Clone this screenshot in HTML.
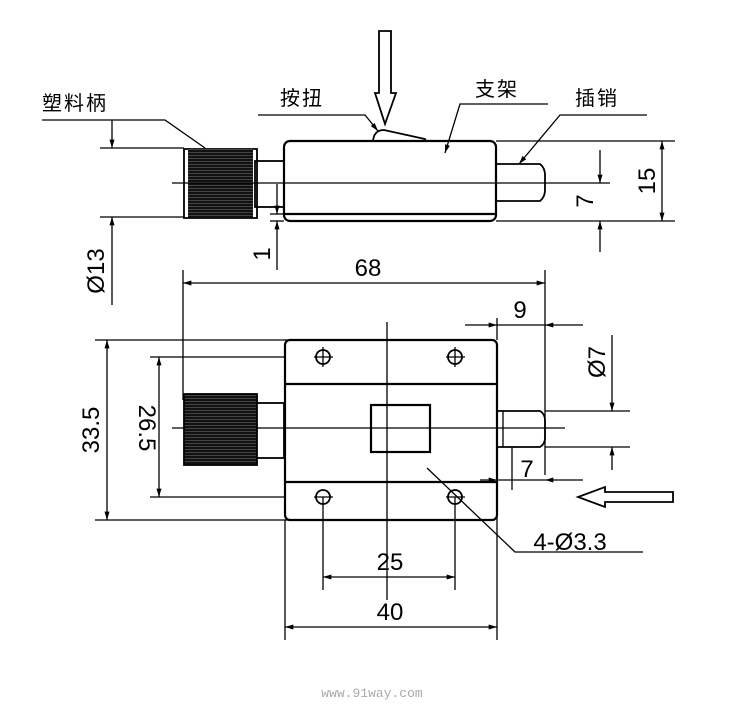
<!DOCTYPE html>
<html><head><meta charset="utf-8"><style>html,body{margin:0;padding:0;background:#fff}svg{display:block}</style></head><body>
<svg width="750" height="705" viewBox="0 0 750 705" xmlns="http://www.w3.org/2000/svg">
<defs>
<marker id="a" viewBox="0 0 10 6" refX="10" refY="3" markerWidth="14" markerHeight="5" markerUnits="userSpaceOnUse" orient="auto-start-reverse"><path d="M0,0L10,3L0,6z" fill="#000"/></marker>
<pattern id="k" width="4" height="3" patternUnits="userSpaceOnUse"><rect width="4" height="3" fill="#111"/><rect y="2" width="4" height="0.6" fill="#666"/></pattern>
</defs>
<g fill="none" stroke="#000" stroke-width="1.3">
<rect x="284" y="141" width="212" height="80" rx="6" stroke-width="2.2"/>
<line x1="284" y1="214" x2="496" y2="214" stroke-width="2.2"/>
<rect x="255" y="161" width="29" height="46" stroke-width="1.8"/>
<path d="M184,149 H257 V218 H184 Z" stroke-width="1.8"/>
<rect x="188" y="149" width="65" height="69" fill="url(#k)" stroke="none"/>
<path d="M497,164 H540 Q545,168 545,175 V190 Q545,197 540,201 H497" stroke-width="1.8"/>
<path d="M373,141 Q374,130 384,130 L425,139 L426,141" stroke-width="1.8"/>
<line x1="172" y1="183" x2="610" y2="183"/>
<path d="M379,31 H391 V93 H396 L385,124 L375,93 H379 Z" stroke-width="1.8"/>
<path d="M42,120 H165 L205,148"/>
<path d="M258,115 H365 L378,131" marker-end="url(#a)"/>
<path d="M548,104 H460 L445,153" marker-end="url(#a)"/>
<path d="M647,115 H560 L519,164" marker-end="url(#a)"/>
<line x1="496" y1="141" x2="675" y2="141"/>
<line x1="496" y1="221" x2="675" y2="221"/>
<line x1="662" y1="141" x2="662" y2="221" marker-start="url(#a)" marker-end="url(#a)"/>
<line x1="600" y1="150" x2="600" y2="183" marker-end="url(#a)"/>
<line x1="600" y1="221" x2="600" y2="252" marker-start="url(#a)"/>
<line x1="100" y1="148" x2="184" y2="148"/>
<line x1="100" y1="217" x2="184" y2="217"/>
<line x1="112" y1="120" x2="112" y2="148" marker-end="url(#a)"/>
<line x1="112" y1="217" x2="112" y2="305" marker-start="url(#a)"/>
<line x1="270" y1="214" x2="284" y2="214"/>
<line x1="270" y1="221" x2="284" y2="221"/>
<line x1="277" y1="184" x2="277" y2="214" marker-end="url(#a)"/>
<line x1="277" y1="221" x2="277" y2="270" marker-start="url(#a)"/>
<line x1="183" y1="270" x2="183" y2="400"/>
<line x1="545" y1="270" x2="545" y2="475"/>
<line x1="183" y1="283" x2="545" y2="283" marker-start="url(#a)" marker-end="url(#a)"/>
<line x1="465" y1="325" x2="497" y2="325" marker-end="url(#a)"/>
<line x1="497" y1="325" x2="545" y2="325"/>
<line x1="583" y1="325" x2="545" y2="325" marker-end="url(#a)"/>
<line x1="497" y1="318" x2="497" y2="340"/>
<line x1="95" y1="340" x2="290" y2="340"/>
<line x1="95" y1="520" x2="290" y2="520"/>
<line x1="107" y1="340" x2="107" y2="520" marker-start="url(#a)" marker-end="url(#a)"/>
<line x1="150" y1="357" x2="330" y2="357"/>
<line x1="150" y1="497" x2="330" y2="497"/>
<line x1="159" y1="357" x2="159" y2="497" marker-start="url(#a)" marker-end="url(#a)"/>
<rect x="285" y="340" width="212" height="180" rx="5" fill="#fff" stroke-width="2.2"/>
<line x1="285" y1="384" x2="497" y2="384" stroke-width="2.2"/>
<line x1="285" y1="482" x2="497" y2="482" stroke-width="2.2"/>
<rect x="371" y="405" width="59" height="47" stroke-width="2.2"/>
<g stroke-width="1.8"><circle cx="323" cy="357" r="7"/><circle cx="455" cy="357" r="7"/><circle cx="323" cy="497" r="7"/><circle cx="455" cy="497" r="7"/></g>
<path d="M314,357H333M323,347V367M446,357H465M455,347V367M314,497H333M446,497H465"/>
<rect x="255" y="403" width="29" height="55" fill="#fff" stroke-width="1.8"/>
<path d="M497,411 H540 Q545,414 545,420 V438 Q545,444 540,447 H497 Z" stroke-width="1.8"/>
<line x1="503" y1="411" x2="503" y2="447"/>
<line x1="172" y1="428" x2="565" y2="428"/>
<line x1="387" y1="322" x2="387" y2="600"/>
<line x1="323" y1="497" x2="323" y2="590"/>
<line x1="455" y1="497" x2="455" y2="590"/>
<line x1="323" y1="577" x2="455" y2="577" marker-start="url(#a)" marker-end="url(#a)"/>
<line x1="285" y1="520" x2="285" y2="640"/>
<line x1="497" y1="482" x2="497" y2="640"/>
<line x1="285" y1="627" x2="497" y2="627" marker-start="url(#a)" marker-end="url(#a)"/>
<line x1="545" y1="411" x2="630" y2="411"/>
<line x1="545" y1="447" x2="630" y2="447"/>
<line x1="612" y1="335" x2="612" y2="411" marker-end="url(#a)"/>
<line x1="612" y1="447" x2="612" y2="470" marker-start="url(#a)"/>
<line x1="512" y1="447" x2="512" y2="490"/>
<line x1="480" y1="480" x2="497" y2="480" marker-end="url(#a)"/>
<line x1="497" y1="480" x2="545" y2="480"/>
<line x1="583" y1="480" x2="545" y2="480" marker-end="url(#a)"/>
<path d="M673,492 H605 V487 L578,497 L605,507 V502 H673 Z" stroke-width="1.8"/>
<path d="M427,468 L515,552 H643"/>
</g>
<g font-family="'Liberation Sans','Noto Sans CJK SC',sans-serif" fill="#000">
<text x="42" y="110" font-size="20" letter-spacing="2">塑料柄</text>
<text x="280" y="105" font-size="20" letter-spacing="2">按扭</text>
<text x="475" y="96" font-size="20" letter-spacing="2">支架</text>
<text x="575" y="105" font-size="20" letter-spacing="2">插销</text>
<text font-size="24" transform="translate(655,181) rotate(-90)" text-anchor="middle">15</text>
<text font-size="24" transform="translate(593,201) rotate(-90)" text-anchor="middle">7</text>
<text font-size="24" transform="translate(270,254) rotate(-90)" text-anchor="middle">1</text>
<text font-size="24" transform="translate(104,271) rotate(-90)" text-anchor="middle">Ø13</text>
<text x="368" y="276" font-size="24" text-anchor="middle">68</text>
<text x="520" y="318" font-size="24" text-anchor="middle">9</text>
<text font-size="24" transform="translate(605,362) rotate(-90)" text-anchor="middle">Ø7</text>
<text x="527" y="477" font-size="24" text-anchor="middle">7</text>
<text font-size="24" transform="translate(99,430) rotate(-90)" text-anchor="middle">33.5</text>
<text font-size="24" transform="translate(139,428) rotate(90)" text-anchor="middle">26.5</text>
<text x="390" y="570" font-size="24" text-anchor="middle">25</text>
<text x="390" y="620" font-size="24" text-anchor="middle">40</text>
<text x="570" y="550" font-size="24" text-anchor="middle">4-Ø3.3</text>
<text x="372" y="697" font-size="13" font-family="'Liberation Mono',monospace" fill="#aaa" text-anchor="middle">www.91way.com</text>
</g>
<rect x="130" y="400" width="9" height="56" fill="#fff"/>
<rect x="184" y="394" width="73" height="71" fill="url(#k)" stroke="#000" stroke-width="1.8"/>
</svg>
</body></html>
